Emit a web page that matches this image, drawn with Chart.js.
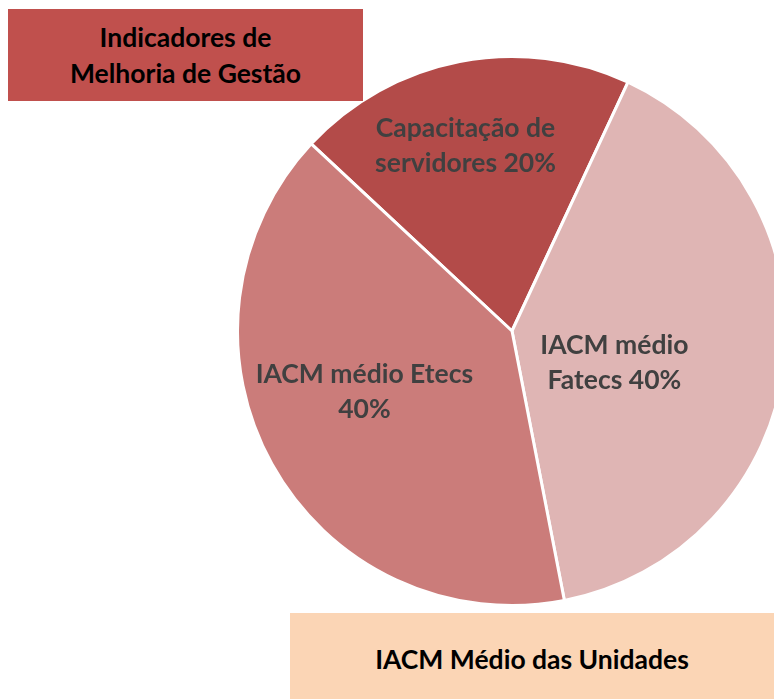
<!DOCTYPE html>
<html>
<head>
<meta charset="utf-8">
<script src="https://cdn.jsdelivr.net/npm/chart.js@4"></script>
<style>
  html,body{margin:0;padding:0;width:774px;height:699px;overflow:hidden;background:#fff;font-family:Lato,'Open Sans',sans-serif}
  #pie{position:absolute;left:236px;top:55px}
  .box{position:absolute;display:flex;align-items:center;justify-content:center;text-align:center;font-weight:700;color:#000;font-size:26.5px;line-height:36px}
  #titleBox{left:8px;top:9px;width:355px;height:92px;background:#C0504D}
  #footBox{left:290px;top:613px;width:484px;height:86px;background:#FBD5B5;padding-top:6px;box-sizing:border-box}
</style>
</head>
<body>
<canvas id="pie" width="552" height="552"></canvas>
<div class="box" id="titleBox">Indicadores de<br>Melhoria de Gestão</div>
<div class="box" id="footBox">IACM Médio das Unidades</div>
<script>
/* Pie — composição do indicador */
var LABELS = [['Capacitação de','servidores 20%'], ['IACM médio','Fatecs 40%'], ['IACM médio Etecs','40%']];
var VALUES = [20, 40, 40];
var COLORS = ['#B34B49', '#DFB5B4', '#CB7C7A'];
// where each label sits: fraction of radius, angle shift (deg) from slice middle
var LABEL_R = [0.70, 0.39, 0.58];
var LABEL_DA = [-3, 10, 7];

var labelPlugin = {
  id:'sliceLabels',
  afterDatasetsDraw: function(chart){
    var ctx = chart.ctx;
    var arcs = chart.getDatasetMeta(0).data;
    ctx.save();
    ctx.font = 'bold 26.5px Lato, "Open Sans", sans-serif';
    ctx.fillStyle = '#404040';
    ctx.textAlign = 'center';
    ctx.textBaseline = 'middle';
    arcs.forEach(function(a, i){
      var p = a.getProps(['x','y','startAngle','endAngle','outerRadius'], true);
      var mid = (p.startAngle + p.endAngle)/2 + LABEL_DA[i]*Math.PI/180;
      var r = p.outerRadius * LABEL_R[i];
      var cx = p.x + Math.cos(mid)*r, cy = p.y + Math.sin(mid)*r;
      var lines = LABELS[i];
      lines.forEach(function(t, k){
        ctx.fillText(t, cx, cy + 1 + (k - (lines.length-1)/2)*35);
      });
    });
    ctx.restore();
  }
};

new Chart(document.getElementById('pie'), {
  type:'pie',
  data:{ labels: LABELS.map(function(l){ return l.join(' '); }),
    datasets:[{ data:VALUES, backgroundColor:COLORS, borderColor:'#ffffff', borderWidth:3 }] },
  options:{
    responsive:false, animation:false,
    rotation:-47,
    layout:{padding:0},
    plugins:{ legend:{display:false}, tooltip:{enabled:false} }
  },
  plugins:[labelPlugin]
});
</script>
</body>
</html>
